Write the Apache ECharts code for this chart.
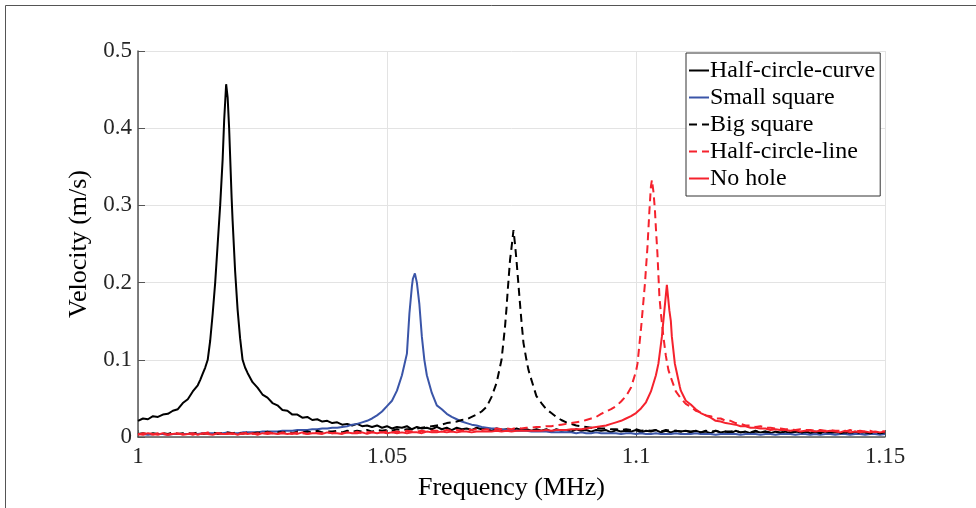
<!DOCTYPE html>
<html>
<head>
<meta charset="utf-8">
<script src="https://cdn.jsdelivr.net/npm/echarts@6/dist/echarts.min.js"></script>
<style>
html,body{margin:0;padding:0;background:#fff;}
#chart{width:976px;height:508px;}
</style>
</head>
<body>
<div id="chart"></div>
<script>
// Shared frequency grid (MHz)
const FREQ = [
1.000,1.001,1.002,1.003,1.004,1.005,1.006,1.007,1.008,1.009,
1.010,1.011,1.012,1.013,1.014,1.015,1.016,1.017,1.018,1.019,
1.020,1.021,1.022,1.023,1.024,1.025,1.026,1.027,1.028,1.029,
1.030,1.031,1.032,1.033,1.034,1.035,1.036,1.037,1.038,1.039,
1.040,1.041,1.042,1.043,1.044,1.045,1.046,1.047,1.048,1.049,
1.050,1.051,1.052,1.053,1.054,1.055,1.056,1.057,1.058,1.059,
1.060,1.061,1.062,1.063,1.064,1.065,1.066,1.067,1.068,1.069,
1.070,1.071,1.072,1.073,1.074,1.075,1.076,1.077,1.078,1.079,
1.080,1.081,1.082,1.083,1.084,1.085,1.086,1.087,1.088,1.089,
1.090,1.091,1.092,1.093,1.094,1.095,1.096,1.097,1.098,1.099,
1.100,1.101,1.102,1.103,1.104,1.105,1.106,1.107,1.108,1.109,
1.110,1.111,1.112,1.113,1.114,1.115,1.116,1.117,1.118,1.119,
1.120,1.121,1.122,1.123,1.124,1.125,1.126,1.127,1.128,1.129,
1.130,1.131,1.132,1.133,1.134,1.135,1.136,1.137,1.138,1.139,
1.140,1.141,1.142,1.143,1.144,1.145,1.146,1.147,1.148,1.149,
1.150];

// Half-circle-curve (black solid)
const halfCircleCurve = [
0.021,0.024,0.023,0.027,0.026,0.029,0.030,0.034,0.036,0.044,
0.049,0.059,0.067,0.082,0.100,0.160,0.250,0.360,0.440,0.280,
0.165,0.100,0.083,0.071,0.064,0.055,0.051,0.044,0.041,0.035,
0.034,0.029,0.029,0.025,0.026,0.022,0.023,0.020,0.021,0.018,
0.019,0.016,0.017,0.015,0.017,0.014,0.015,0.013,0.015,0.012,
0.014,0.011,0.013,0.012,0.014,0.010,0.013,0.011,0.012,0.010,
0.013,0.010,0.012,0.009,0.012,0.010,0.011,0.009,0.012,0.010,
0.011,0.008,0.011,0.009,0.010,0.008,0.011,0.009,0.010,0.008,
0.010,0.008,0.010,0.007,0.010,0.008,0.009,0.007,0.010,0.008,
0.009,0.007,0.009,0.008,0.009,0.006,0.009,0.007,0.008,0.007,
0.009,0.006,0.008,0.007,0.009,0.006,0.008,0.006,0.008,0.007,
0.008,0.006,0.008,0.006,0.007,0.005,0.008,0.006,0.007,0.005,
0.008,0.006,0.007,0.005,0.007,0.006,0.007,0.005,0.007,0.005,
0.007,0.005,0.007,0.006,0.007,0.005,0.006,0.005,0.007,0.005,
0.006,0.005,0.007,0.004,0.006,0.005,0.006,0.004,0.006,0.005,
0.006];
const halfCircleCurvePeakF = [1.0125,1.0135,1.0145,1.0155,1.0165,1.0173,1.0177,1.0183,1.0188,1.0195,1.0205,1.0215];
const halfCircleCurvePeakV = [0.074,0.090,0.125,0.200,0.300,0.410,0.457,0.400,0.310,0.215,0.128,0.090];

// Small square (blue)
const smallSquare = [
0.004,0.004,0.003,0.004,0.004,0.004,0.003,0.004,0.004,0.004,
0.004,0.005,0.004,0.005,0.005,0.005,0.005,0.005,0.006,0.005,
0.005,0.006,0.006,0.006,0.006,0.007,0.007,0.007,0.007,0.008,
0.008,0.008,0.009,0.009,0.009,0.010,0.010,0.011,0.011,0.012,
0.012,0.013,0.014,0.016,0.017,0.019,0.021,0.024,0.028,0.033,
0.040,0.047,0.060,0.080,0.108,0.195,0.200,0.130,0.080,0.057,
0.041,0.036,0.030,0.026,0.023,0.020,0.018,0.016,0.015,0.013,
0.012,0.011,0.011,0.010,0.009,0.009,0.008,0.008,0.008,0.007,
0.007,0.007,0.007,0.006,0.006,0.006,0.006,0.006,0.005,0.006,
0.005,0.005,0.006,0.005,0.005,0.005,0.005,0.004,0.005,0.005,
0.004,0.005,0.004,0.004,0.005,0.004,0.004,0.004,0.005,0.004,
0.004,0.004,0.005,0.004,0.004,0.004,0.003,0.004,0.004,0.004,
0.004,0.003,0.004,0.004,0.004,0.003,0.004,0.004,0.003,0.004,
0.004,0.004,0.003,0.004,0.004,0.003,0.004,0.003,0.004,0.004,
0.003,0.004,0.004,0.003,0.004,0.004,0.003,0.004,0.004,0.003,
0.004];
const smallSquarePeakF = [1.0535,1.0545,1.0552,1.0556,1.0565,1.0575];
const smallSquarePeakV = [0.094,0.160,0.205,0.212,0.172,0.100];

// Big square (black dashed)
const bigSquare = [
0.004,0.005,0.003,0.005,0.004,0.005,0.004,0.006,0.004,0.005,
0.005,0.004,0.006,0.004,0.005,0.006,0.004,0.005,0.006,0.005,
0.006,0.004,0.006,0.005,0.006,0.005,0.007,0.005,0.006,0.006,
0.007,0.005,0.007,0.006,0.007,0.006,0.008,0.006,0.007,0.007,
0.008,0.006,0.008,0.007,0.008,0.007,0.009,0.007,0.009,0.008,
0.009,0.008,0.010,0.009,0.010,0.010,0.011,0.012,0.013,0.014,
0.015,0.016,0.018,0.019,0.020,0.022,0.023,0.026,0.029,0.033,
0.039,0.052,0.070,0.100,0.167,0.245,0.229,0.150,0.100,0.074,
0.053,0.044,0.036,0.031,0.026,0.022,0.019,0.017,0.015,0.014,
0.013,0.012,0.012,0.011,0.011,0.010,0.010,0.009,0.010,0.009,
0.010,0.008,0.009,0.008,0.009,0.007,0.009,0.008,0.008,0.007,
0.008,0.007,0.008,0.006,0.008,0.007,0.008,0.006,0.007,0.007,
0.008,0.006,0.007,0.006,0.008,0.006,0.007,0.006,0.007,0.006,
0.007,0.006,0.007,0.005,0.007,0.006,0.007,0.005,0.006,0.006,
0.007,0.005,0.006,0.005,0.007,0.005,0.006,0.005,0.006,0.005,
0.006];
const bigSquarePeakF = [1.0737,1.0742,1.0747,1.0754,1.0757,1.0767,1.0774,1.0784];
const bigSquarePeakV = [0.143,0.186,0.229,0.268,0.250,0.173,0.122,0.087];

// Half-circle-line (red dashed)
const halfCircleLine = [
0.003,0.005,0.004,0.003,0.005,0.004,0.003,0.005,0.004,0.004,
0.005,0.003,0.005,0.004,0.006,0.003,0.005,0.004,0.005,0.004,
0.005,0.004,0.006,0.004,0.005,0.004,0.006,0.005,0.004,0.006,
0.005,0.004,0.006,0.005,0.004,0.006,0.005,0.005,0.006,0.005,
0.006,0.005,0.006,0.005,0.007,0.005,0.006,0.006,0.007,0.006,
0.007,0.006,0.007,0.006,0.008,0.007,0.007,0.008,0.007,0.008,
0.008,0.007,0.009,0.008,0.009,0.008,0.010,0.009,0.010,0.009,
0.010,0.009,0.011,0.010,0.011,0.010,0.012,0.011,0.012,0.012,
0.013,0.013,0.014,0.014,0.015,0.016,0.017,0.018,0.019,0.020,
0.022,0.024,0.026,0.030,0.033,0.036,0.040,0.046,0.053,0.064,
0.085,0.140,0.218,0.325,0.270,0.160,0.105,0.077,0.059,0.050,
0.043,0.039,0.034,0.032,0.028,0.027,0.024,0.024,0.021,0.021,
0.018,0.017,0.015,0.015,0.013,0.014,0.012,0.012,0.011,0.011,
0.010,0.010,0.009,0.010,0.009,0.009,0.008,0.009,0.008,0.009,
0.008,0.008,0.007,0.009,0.007,0.008,0.007,0.008,0.006,0.008,
0.007];
const halfCircleLinePeakF = [1.1003,1.1011,1.1018,1.1023,1.1027,1.1032,1.1035,1.1038,1.1043,1.1047,1.1055,1.1065];
const halfCircleLinePeakV = [0.095,0.147,0.199,0.246,0.294,0.333,0.318,0.294,0.238,0.182,0.130,0.087];

// No hole (red solid)
const noHole = [
0.004,0.003,0.005,0.004,0.003,0.005,0.003,0.004,0.005,0.003,
0.004,0.005,0.003,0.005,0.004,0.003,0.005,0.004,0.004,0.005,
0.003,0.005,0.004,0.005,0.003,0.005,0.004,0.005,0.004,0.005,
0.004,0.005,0.004,0.006,0.004,0.005,0.005,0.004,0.006,0.005,
0.005,0.004,0.006,0.005,0.005,0.006,0.004,0.006,0.005,0.006,
0.005,0.006,0.005,0.006,0.005,0.006,0.006,0.005,0.007,0.006,
0.006,0.007,0.006,0.007,0.006,0.007,0.007,0.006,0.007,0.007,
0.007,0.007,0.008,0.007,0.008,0.007,0.008,0.008,0.008,0.008,
0.008,0.008,0.009,0.008,0.009,0.009,0.009,0.010,0.010,0.010,
0.011,0.012,0.013,0.014,0.015,0.017,0.019,0.021,0.024,0.027,
0.031,0.037,0.045,0.059,0.080,0.120,0.184,0.150,0.089,0.060,
0.047,0.042,0.036,0.031,0.028,0.025,0.021,0.020,0.018,0.017,
0.016,0.014,0.014,0.012,0.012,0.011,0.011,0.009,0.010,0.009,
0.009,0.008,0.009,0.007,0.008,0.008,0.007,0.008,0.007,0.008,
0.007,0.006,0.008,0.006,0.007,0.006,0.007,0.006,0.007,0.006,
0.007];
const noHolePeakF = [1.1045,1.1052,1.1057,1.1062,1.1067,1.1072,1.1078,1.1088];
const noHolePeakV = [0.095,0.130,0.164,0.197,0.164,0.130,0.095,0.065];

const seriesNames = ['Half-circle-curve','Small square','Big square','Half-circle-line','No hole'];
const xTicks = [1, 1.05, 1.1, 1.15];
const yTicks = [0, 0.1, 0.2, 0.3, 0.4, 0.5];

function build(vals, pf, pv) {
  const pts = FREQ.map((f, i) => [f, vals[i]]);
  pf.forEach((f, i) => pts.push([f, pv[i]]));
  pts.sort((a, b) => a[0] - b[0]);
  return pts;
}

const FONT = 'Liberation Serif';
const chart = echarts.init(document.getElementById('chart'), null, {renderer: 'canvas'});

const styles = [
  {color: '#000000', type: 'solid'},
  {color: '#3a55a8', type: 'solid'},
  {color: '#000000', type: [8, 5]},
  {color: '#f5222d', type: [8, 5]},
  {color: '#f5222d', type: 'solid'}
];
const datasets = [
  build(halfCircleCurve, halfCircleCurvePeakF, halfCircleCurvePeakV),
  build(smallSquare, smallSquarePeakF, smallSquarePeakV),
  build(bigSquare, bigSquarePeakF, bigSquarePeakV),
  build(halfCircleLine, halfCircleLinePeakF, halfCircleLinePeakV),
  build(noHole, noHolePeakF, noHolePeakV)
];

chart.setOption({
  animation: false,
  backgroundColor: '#ffffff',
  graphic: [{
    type: 'rect',
    shape: {x: 5.5, y: 5.5, width: 1000, height: 600},
    style: {fill: 'none', stroke: '#555555', lineWidth: 1},
    silent: true
  }],
  grid: {left: 138, right: 91, top: 51, bottom: 71, containLabel: false},
  legend: {
    orient: 'vertical',
    left: 686,
    top: 53,
    data: seriesNames,
    itemWidth: 20,
    itemHeight: 14,
    itemGap: 0,
    padding: [4, 5, 4, 2],
    borderColor: '#333333',
    borderWidth: 1,
    backgroundColor: '#ffffff',
    itemStyle: {opacity: 0},
    lineStyle: {width: 2},
    textStyle: {fontFamily: FONT, fontSize: 24, color: '#000000', lineHeight: 27, padding: [0, 0, 0, -4]}
  },
  xAxis: {
    type: 'value',
    min: 1,
    max: 1.15,
    interval: 0.05,
    name: 'Frequency (MHz)',
    nameLocation: 'middle',
    nameGap: 38,
    nameTextStyle: {fontFamily: FONT, fontSize: 26, color: '#000000'},
    axisLine: {show: true, lineStyle: {color: '#555555', width: 1.5}},
    axisTick: {show: true, inside: true, length: 7, lineStyle: {color: '#555555'}},
    axisLabel: {
      fontFamily: FONT, fontSize: 23, color: '#262626', margin: 8,
      formatter: v => String(+v.toFixed(2))
    },
    splitLine: {show: true, lineStyle: {color: '#e3e3e3', width: 1}}
  },
  yAxis: {
    type: 'value',
    min: 0,
    max: 0.5,
    interval: 0.1,
    name: 'Velocity (m/s)',
    nameLocation: 'middle',
    nameGap: 36,
    nameTextStyle: {fontFamily: FONT, fontSize: 26, color: '#000000'},
    axisLine: {show: true, lineStyle: {color: '#555555', width: 1.5}},
    axisTick: {show: true, inside: true, length: 7, lineStyle: {color: '#555555'}},
    axisLabel: {
      fontFamily: FONT, fontSize: 23, color: '#262626', margin: 6,
      formatter: v => String(+v.toFixed(1))
    },
    splitLine: {show: true, lineStyle: {color: '#e3e3e3', width: 1}}
  },
  series: seriesNames.map((name, i) => ({
    name: name,
    type: 'line',
    data: datasets[i],
    showSymbol: false,
    symbol: 'none',
    clip: true,
    lineStyle: {color: styles[i].color, type: styles[i].type, width: 2},
    itemStyle: {color: styles[i].color}
  }))
});
</script>
</body>
</html>
